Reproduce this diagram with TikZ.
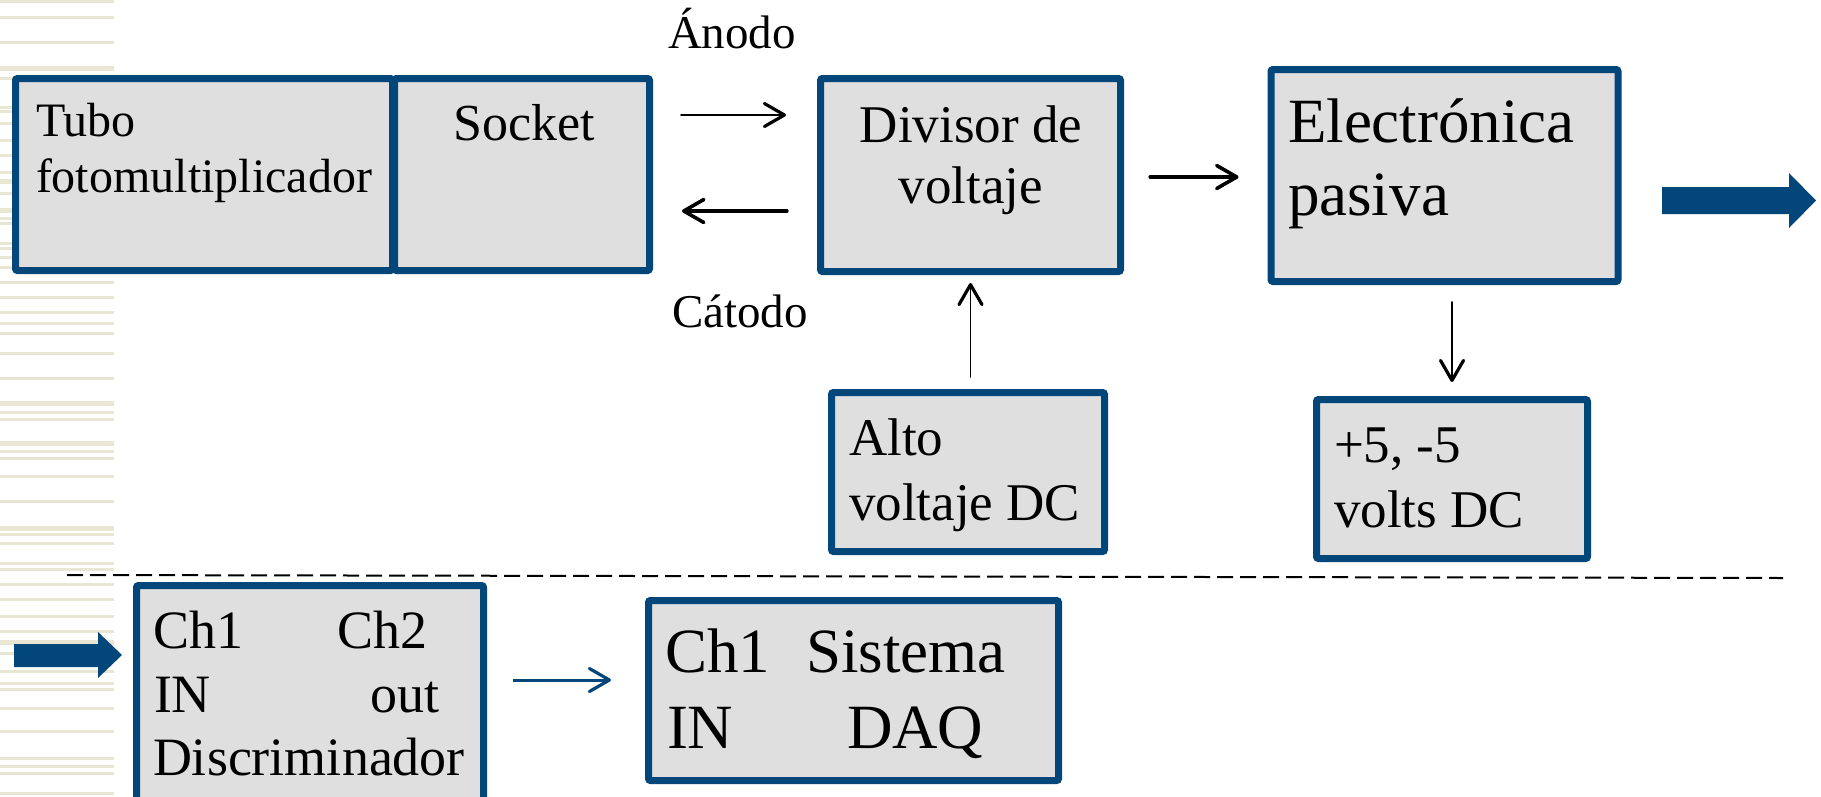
\documentclass[tikz,border=0pt]{standalone}
\usepackage{fontspec}
\setmainfont{Liberation Serif}
\usetikzlibrary{arrows.meta,calc}
\definecolor{bblue}{RGB}{2,70,122}
\definecolor{bgray}{RGB}{223,223,223}
\definecolor{stripe}{RGB}{233,230,212}
\begin{document}
\begin{tikzpicture}[x=1pt,y=-1pt,
  blk/.style={rectangle, draw=bblue, line width=7pt, fill=bgray, rounded corners=2pt, inner sep=0pt},
  txt/.style={anchor=base west, inner sep=0pt, outer sep=0pt},
  ctxt/.style={anchor=base, inner sep=0pt, outer sep=0pt},
  etxt/.style={anchor=base east, inner sep=0pt, outer sep=0pt},
  fA/.style={font=\fontsize{47pt}{56pt}\selectfont},
  fT/.style={font=\fontsize{48pt}{56pt}\selectfont},
  fS/.style={font=\fontsize{52pt}{60pt}\selectfont},
  fC/.style={font=\fontsize{53pt}{62pt}\selectfont},
  fK/.style={font=\fontsize{54pt}{62pt}\selectfont},
  fD/.style={font=\fontsize{63pt}{72pt}\selectfont},
  fE/.style={font=\fontsize{63pt}{74pt}\selectfont},
  thinarr/.style={line width=1.6pt, line cap=round, -{Straight Barb[length=20pt,width=23pt,line width=3.2pt,round]}},
  thickarr/.style={line width=3.2pt, line cap=round, -{Straight Barb[length=20pt,width=23pt,line width=3.6pt,round]}},
  bluearr/.style={draw=bblue, line width=3pt, -{Straight Barb[length=20pt,width=23pt,line width=3.2pt,round]}},
  stripeline/.style={draw=stripe, line width=3pt},
  sep/.style={draw=black, line width=2pt, dash pattern=on 16pt off 7pt}
]
\useasboundingbox (0,0) rectangle (1821,796);
% background stripes on the left
\foreach \yy in {1,17,42,78,107,111,123,140,155,172,193,218,223,243,248,257,267,282,297,312,323,333,353,378,412,419,451,458,476,501,534,543,563,569,584,599,616,631,653,671,683,689,708,731,758,766,773,793}
  {\draw[stripeline] (0,\yy) -- (114,\yy);}
\foreach \yy in {68,181,210,403,443,528,642}
  {\draw[stripeline, line width=5pt] (0,\yy) -- (114,\yy);}

% boxes
\node[blk, minimum width=377pt, minimum height=192pt] (tubo) at (204,174.5) {};
\node[blk, minimum width=255pt, minimum height=192pt] (socket) at (522,174.5) {};
\node[blk, minimum width=300pt, minimum height=193pt] (div) at (970.5,175) {};
\node[blk, minimum width=347pt, minimum height=212pt] (elec) at (1444.5,175.5) {};
\node[blk, minimum width=273pt, minimum height=159pt] (alto) at (968,472) {};
\node[blk, minimum width=271pt, minimum height=159pt] (volts) at (1452,479) {};
\node[blk, minimum width=347pt, minimum height=216pt] (disc) at (310,693.5) {};
\node[blk, minimum width=410pt, minimum height=180pt] (daq) at (853.5,690.5) {};

% texts
\node[txt,fT] (t1) at (36,136) {Tubo};
\node[txt,fT] (t2) at (36,192) {fotomultiplicador};
\node[ctxt,fS] (t3) at (524,140) {Socket};
\node[ctxt,fC] (t4) at (971,142) {Divisor de};
\node[ctxt,fC] (t5) at (971,203) {voltaje};
\node[txt,fE] (t6) at (1288,142) {Electrónica};
\node[txt,fE] (t7) at (1288,215) {pasiva};
\node[txt,fC] (t8) at (849,455) {Alto};
\node[txt,fC] (t9) at (849,520) {voltaje DC};
\node[txt,fC] (t10) at (1334,462) {+5, -5};
\node[txt,fC] (t11) at (1334,527) {volts DC};
\node[txt,fK] (t12) at (153,648) {Ch1};
\node[txt,fK] (t13) at (337,648) {Ch2};
\node[txt,fK] (t14) at (154,712) {IN};
\node[etxt,fK] (t15) at (439,712) {out};
\node[txt,fK] (t16) at (153,775) {Discriminador};
\node[txt,fD] (t17) at (665,672) {Ch1};
\node[txt,fD] (t18) at (806,672) {Sistema};
\node[txt,fD] (t19) at (667,748) {IN};
\node[txt,fD] (t20) at (847,748) {DAQ};
\node[txt,fA] (anodo) at (668,48) {Ánodo};
\node[txt,fA] (catodo) at (672,327) {Cátodo};

% connectors
\coordinate (ya) at (0,115);
\coordinate (yc) at (0,211);
\coordinate (ye) at (0,177);
\coordinate (yd) at (0,680);
\draw[thinarr, shorten <=28pt, shorten >=31pt] (socket.east |- ya) -- (div.west |- ya);
\draw[thickarr, shorten <=30pt, shorten >=29pt] (div.west |- yc) -- (socket.east |- yc);
\draw[thickarr, shorten <=26pt, shorten >=29pt] (div.east |- ye) -- (elec.west |- ye);
\draw[thinarr, shorten <=12pt, shorten >=8pt] (div.south |- alto.north) -- (div.south);
\draw[thinarr, shorten <=17pt, shorten >=14pt] (volts.north |- elec.south) -- (volts.north);
\draw[bluearr, shorten <=26pt, shorten >=34pt] (disc.east |- yd) -- (daq.west |- yd);

% block arrows (output / input)
\fill[bblue] (1662,187) -- (1789,187) -- (1789,173) -- (1816,200.5) -- (1789,228) -- (1789,214) -- (1662,214) -- cycle;
\fill[bblue] (14,644) -- (98,644) -- (98,632) -- (122,655) -- (98,678) -- (98,667) -- (14,667) -- cycle;

% separator
\coordinate (s1) at (67,575);
\coordinate (s2) at (1783,578);
\draw[sep] (s1) -- (s2);
\end{tikzpicture}
\end{document}
